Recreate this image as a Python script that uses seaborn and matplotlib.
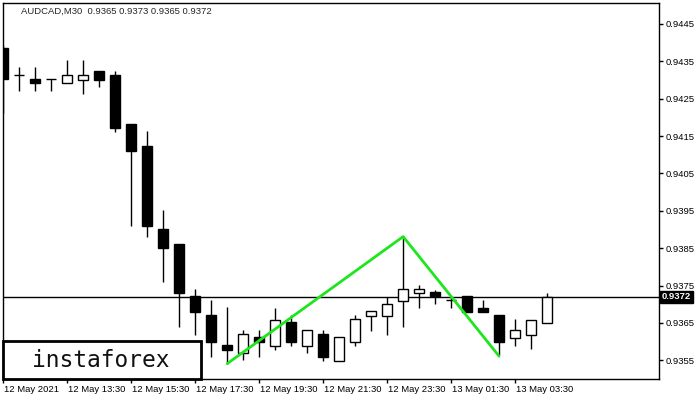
import matplotlib
matplotlib.use("Agg")
import matplotlib.pyplot as plt
import matplotlib.transforms as mtransforms
from matplotlib.patches import Rectangle
import seaborn as sns
import pandas as pd
import numpy as np

# AUDCAD M30 bars, 12 May 11:30 .. 13 May 04:30
opens = [0.94385, 0.94313, 0.94303, 0.94302, 0.94293, 0.94301, 0.94324, 0.94313,
         0.94182, 0.94123, 0.93901, 0.93861, 0.93721, 0.93671, 0.93590, 0.93570,
         0.93612, 0.93589, 0.93652, 0.93588, 0.93620, 0.93548, 0.93599, 0.93669,
         0.93669, 0.93709, 0.93731, 0.93732, 0.93711, 0.93721, 0.93691, 0.93670,
         0.93611, 0.93618, 0.93650]
highs = [0.94394, 0.94335, 0.94335, 0.94302, 0.94354, 0.94354, 0.94324, 0.94324,
         0.94182, 0.94163, 0.93952, 0.93861, 0.93740, 0.93711, 0.93693, 0.93630,
         0.93630, 0.93691, 0.93671, 0.93630, 0.93630, 0.93612, 0.93671, 0.93681,
         0.93720, 0.93881, 0.93751, 0.93739, 0.93720, 0.93721, 0.93711, 0.93670,
         0.93660, 0.93659, 0.93730]
lows = [0.94212, 0.94271, 0.94271, 0.94271, 0.94293, 0.94263, 0.94282, 0.94162,
        0.93910, 0.93880, 0.93760, 0.93639, 0.93617, 0.93559, 0.93541, 0.93550,
        0.93559, 0.93577, 0.93588, 0.93570, 0.93548, 0.93548, 0.93588, 0.93628,
        0.93617, 0.93639, 0.93690, 0.93701, 0.93691, 0.93680, 0.93679, 0.93563,
        0.93588, 0.93579, 0.93650]
closes = [0.94302, 0.94313, 0.94293, 0.94302, 0.94313, 0.94313, 0.94301, 0.94172,
          0.94111, 0.93910, 0.93851, 0.93730, 0.93679, 0.93599, 0.93578, 0.93620,
          0.93599, 0.93659, 0.93599, 0.93630, 0.93559, 0.93612, 0.93660, 0.93681,
          0.93702, 0.93740, 0.93740, 0.93721, 0.93711, 0.93680, 0.93679, 0.93600,
          0.93630, 0.93659, 0.93720]

tick_pos = [0, 4, 8, 12, 16, 20, 24, 28, 32]
tick_labels = ["12 May 2021", "12 May 13:30", "12 May 15:30", "12 May 17:30",
               "12 May 19:30", "12 May 21:30", "12 May 23:30", "13 May 01:30",
               "13 May 03:30"]
y_ticks = [0.9355, 0.9365, 0.9375, 0.9385, 0.9395, 0.9405, 0.9415, 0.9425,
           0.9435, 0.9445]

# double top pattern outline
pattern_idx = [14, 25, 31]
pattern_price = [0.93541, 0.93881, 0.93561]
last_price = 0.9372
title = "AUDCAD,M30  0.9365 0.9373 0.9365 0.9372"

df = pd.DataFrame({"idx": np.arange(len(opens)), "open": opens, "high": highs,
                   "low": lows, "close": closes})
df["bottom"] = df[["open", "close"]].min(axis=1)
df["height"] = (df["close"] - df["open"]).abs()
df["fill"] = np.where(df["close"] >= df["open"], "white", "black")

sns.set_style("white")
plt.rcParams["font.family"] = ["Liberation Sans", "DejaVu Sans"]

fig = plt.figure(figsize=(7, 4), dpi=100)
ax = fig.add_axes([2.7 / 700, 21 / 400, 656.3 / 700, 376 / 400])

ax.axhline(last_price, color="black", lw=1, zorder=1)
ax.vlines(df["idx"], df["low"], df["high"], color="black", lw=1, zorder=2)
ax.bar(df["idx"], df["height"], bottom=df["bottom"], width=0.62,
       color=df["fill"], edgecolor="black", linewidth=1, zorder=3)

sns.lineplot(x=pattern_idx, y=pattern_price, color="#1de61d", lw=2, sort=False,
             ax=ax, zorder=4)

ax.set_xlim(-0.04, 41.0)
ax.set_ylim(0.93500, 0.94506)

ax.set_xticks(tick_pos)
ax.set_xticklabels(tick_labels, ha="left")
ax.set_yticks(y_ticks)
ax.set_yticklabels([f"{v:.4f}" for v in y_ticks])
ax.yaxis.tick_right()
ax.tick_params(axis="x", bottom=True, length=3, width=1, pad=1.5, labelsize=6.8,
               colors="black")
ax.tick_params(axis="y", right=True, left=False, length=3, width=1, pad=1.5,
               labelsize=6.8, colors="black")
for lbl in ax.get_xticklabels():
    lbl.set_transform(lbl.get_transform() + mtransforms.ScaledTranslation(1 / 100, 0, fig.dpi_scale_trans))
for sp in ax.spines.values():
    sp.set_color("black")
    sp.set_linewidth(1)
ax.set_xlabel("")
ax.set_ylabel("")

# current price label on the right scale
trans = mtransforms.blended_transform_factory(ax.transAxes, ax.transData)
ax.text(1.004, last_price, f"{last_price:.4f}", transform=trans, ha="left",
        va="center", color="white", fontsize=6.8, fontweight="bold",
        bbox=dict(facecolor="black", edgecolor="black", pad=1.2), clip_on=False)

fig.text(21 / 700, 1 - 11 / 400, title, fontsize=6.8, va="center", ha="left")

# logo
fig.patches.append(Rectangle((3 / 700, 21 / 400), 198 / 700, 38 / 400,
                             transform=fig.transFigure, facecolor="white",
                             edgecolor="black", lw=2, zorder=5))
fig.text(101 / 700, (400 - 367) / 400, "instaforex", fontsize=16.5,
         family=["DejaVu Sans Mono", "DejaVu Sans"], ha="center",
         va="baseline", color="#111111", zorder=6)

fig.savefig("out.png", dpi=100)
